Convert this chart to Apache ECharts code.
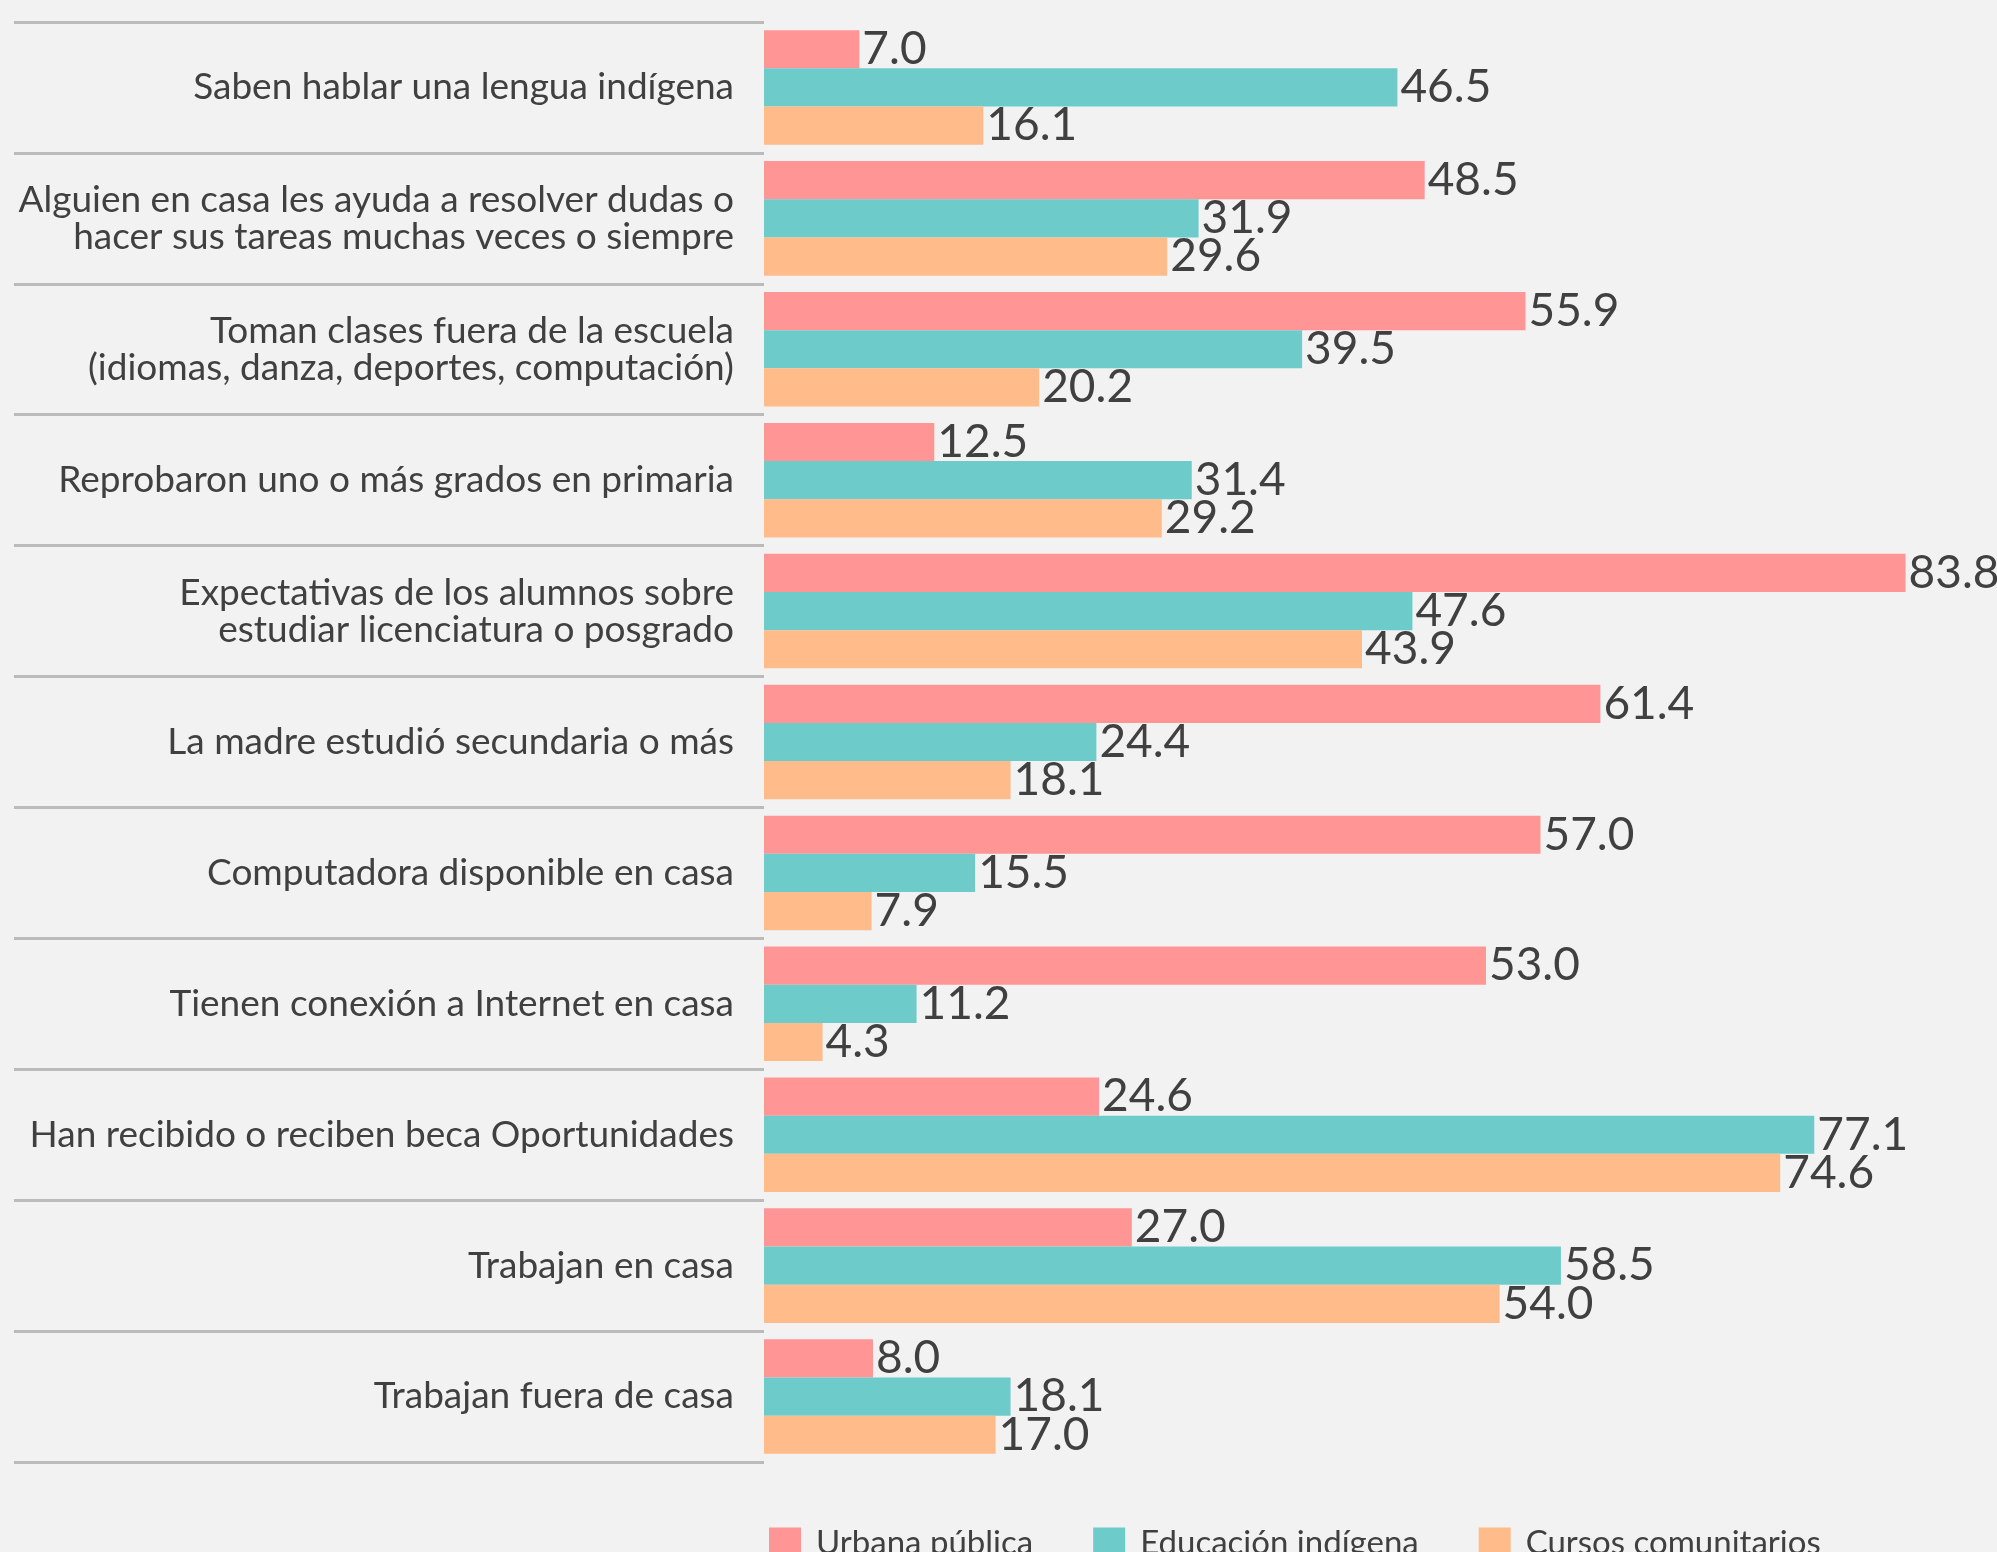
<!DOCTYPE html>
<html>
<head>
<meta charset="utf-8">
<script src="https://cdn.jsdelivr.net/npm/echarts@6/dist/echarts.min.js"></script>
<style>
  html, body { margin: 0; padding: 0; background: #f2f2f2; }
  #chart { width: 1997px; height: 1552px; }
</style>
</head>
<body>
<div id="chart"></div>
<script>
// categories, top to bottom
const categories = [
    'Saben hablar una lengua indígena',
    'Alguien en casa les ayuda a resolver dudas o\nhacer sus tareas muchas veces o siempre',
    'Toman clases fuera de la escuela\n(idiomas, danza, deportes, computación)',
    'Reprobaron uno o más grados en primaria',
    'Expectativas de los alumnos sobre\nestudiar licenciatura o posgrado',
    'La madre estudió secundaria o más',
    'Computadora disponible en casa',
    'Tienen conexión a Internet en casa',
    'Han recibido o reciben beca Oportunidades',
    'Trabajan en casa',
    'Trabajan fuera de casa'
];

const seriesNames = ['Urbana pública', 'Educación indígena', 'Cursos comunitarios'];

const urbanaPublica      = [7.0, 48.5, 55.9, 12.5, 83.8, 61.4, 57.0, 53.0, 24.6, 27.0, 8.0];
const educacionIndigena  = [46.5, 31.9, 39.5, 31.4, 47.6, 24.4, 15.5, 11.2, 77.1, 58.5, 18.1];
const cursosComunitarios = [16.1, 29.6, 20.2, 29.2, 43.9, 18.1, 7.9, 4.3, 74.6, 54.0, 17.0];

const colors = ['#ff9595', '#6dcbca', '#ffbb8a'];
const textColor = '#404040';
const fontFamily = 'Lato, "Noto Sans", sans-serif';

function makeSeries(name, data, color) {
    return {
        name: name,
        type: 'bar',
        data: data,
        barGap: '0%',
        barCategoryGap: '12.5%',
        itemStyle: { color: color },
        label: {
            show: true,
            position: 'right',
            distance: 3,
            color: textColor,
            fontFamily: fontFamily,
            fontSize: 46,
            formatter: p => p.value.toFixed(1)
        },
        emphasis: { disabled: true },
        animation: false
    };
}

const chart = echarts.init(document.getElementById('chart'), null, { renderer: 'canvas' });

chart.setOption({
    backgroundColor: '#f2f2f2',
    textStyle: { fontFamily: fontFamily },
    grid: { left: 764, right: 7, top: 22, bottom: 90, containLabel: false },
    legend: {
        data: seriesNames,
        left: 764,
        top: 1522,
        itemWidth: 32,
        itemHeight: 32,
        itemGap: 60,
        icon: 'rect',
        textStyle: {
            color: textColor,
            fontSize: 33,
            fontFamily: fontFamily,
            padding: [0, 0, 0, 10]
        }
    },
    xAxis: {
        type: 'value',
        min: 0,
        max: 90,
        show: false
    },
    yAxis: {
        type: 'category',
        data: categories,
        inverse: true,
        axisLine: { show: false },
        axisTick: {
            show: true,
            length: 750,
            lineStyle: { color: '#bbbbbb', width: 3 }
        },
        axisLabel: {
            color: textColor,
            fontSize: 37,
            lineHeight: 37,
            margin: 30,
            align: 'right',
            fontFamily: fontFamily
        },
        splitLine: { show: false }
    },
    series: [
        makeSeries(seriesNames[0], urbanaPublica, colors[0]),
        makeSeries(seriesNames[1], educacionIndigena, colors[1]),
        makeSeries(seriesNames[2], cursosComunitarios, colors[2])
    ]
});
</script>
</body>
</html>
